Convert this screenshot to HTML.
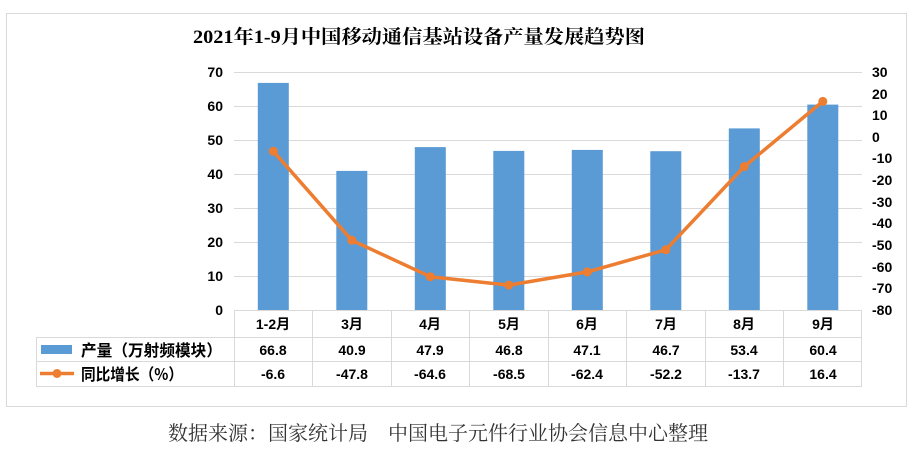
<!DOCTYPE html>
<html><head><meta charset="utf-8"><style>
body{margin:0;background:#fff;width:924px;height:448px;overflow:hidden}
svg text{font-family:"Liberation Sans","Noto Sans CJK SC",sans-serif;font-weight:bold;font-size:14px;fill:#000}
</style></head><body>
<svg width="924" height="448" viewBox="0 0 924 448">
<rect x="6.5" y="13.5" width="900" height="393" fill="#fff" stroke="#d9d9d9"/>
<text x="193" y="43" textLength="452" lengthAdjust="spacingAndGlyphs" style="font-family:'Liberation Serif','Noto Serif CJK SC',serif;font-size:19px;font-weight:bold">2021年1-9月中国移动通信基站设备产量发展趋势图</text>
<g stroke="#d9d9d9" stroke-width="1">
<line x1="234" x2="862" y1="72.5" y2="72.5"/><line x1="234" x2="862" y1="106.5" y2="106.5"/>
<line x1="234" x2="862" y1="140.5" y2="140.5"/><line x1="234" x2="862" y1="174.5" y2="174.5"/>
<line x1="234" x2="862" y1="208.5" y2="208.5"/><line x1="234" x2="862" y1="242.5" y2="242.5"/>
<line x1="234" x2="862" y1="276.5" y2="276.5"/><line x1="234" x2="862" y1="310.5" y2="310.5"/>
<line x1="36" x2="862" y1="337.5" y2="337.5"/><line x1="36" x2="862" y1="361.5" y2="361.5"/><line x1="36" x2="862" y1="386.5" y2="386.5"/>
<line x1="36.5" x2="36.5" y1="337" y2="386"/>
<line x1="234.5" x2="234.5" y1="310" y2="386"/><line x1="312.5" x2="312.5" y1="310" y2="386"/>
<line x1="391.5" x2="391.5" y1="310" y2="386"/><line x1="469.5" x2="469.5" y1="310" y2="386"/>
<line x1="548.5" x2="548.5" y1="310" y2="386"/><line x1="626.5" x2="626.5" y1="310" y2="386"/>
<line x1="705.5" x2="705.5" y1="310" y2="386"/><line x1="783.5" x2="783.5" y1="310" y2="386"/>
<line x1="861.5" x2="861.5" y1="310" y2="386"/>
</g>
<g text-anchor="end">
<text x="223" y="77">70</text><text x="223" y="111">60</text><text x="223" y="145">50</text><text x="223" y="179">40</text>
<text x="223" y="213">30</text><text x="223" y="247">20</text><text x="223" y="281">10</text><text x="223" y="315">0</text>
</g>
<g>
<text x="872" y="77">30</text><text x="872" y="99">20</text><text x="872" y="120">10</text><text x="872" y="142">0</text>
<text x="872" y="163">-10</text><text x="872" y="185">-20</text><text x="872" y="207">-30</text><text x="872" y="228">-40</text>
<text x="872" y="250">-50</text><text x="872" y="272">-60</text><text x="872" y="293">-70</text><text x="872" y="315">-80</text>
</g>
<g fill="#5b9bd5">
<rect x="257.8" y="82.9" width="31" height="227.1"/><rect x="336.3" y="170.9" width="31" height="139.1"/>
<rect x="414.8" y="147.1" width="31" height="162.9"/><rect x="493.3" y="150.9" width="31" height="159.1"/>
<rect x="571.8" y="149.9" width="31" height="160.1"/><rect x="650.3" y="151.2" width="31" height="158.8"/>
<rect x="728.8" y="128.4" width="31" height="181.6"/><rect x="807.3" y="104.6" width="31" height="205.4"/>
</g>
<polyline fill="none" stroke="#ed7d31" stroke-width="3.5" stroke-linejoin="round" points="273.3,151.2 351.8,240.3 430.3,276.7 508.8,285.1 587.3,271.9 665.8,249.8 744.3,166.5 822.8,101.4"/>
<g fill="#ed7d31">
<circle cx="273.3" cy="151.2" r="4.5"/><circle cx="351.8" cy="240.3" r="4.5"/><circle cx="430.3" cy="276.7" r="4.5"/>
<circle cx="508.8" cy="285.1" r="4.5"/><circle cx="587.3" cy="271.9" r="4.5"/><circle cx="665.8" cy="249.8" r="4.5"/>
<circle cx="744.3" cy="166.5" r="4.5"/><circle cx="822.8" cy="101.4" r="4.5"/>
</g>
<g text-anchor="middle" style="font-size:15px">
<text x="273" y="329">1-2月</text><text x="352" y="329">3月</text><text x="430" y="329">4月</text><text x="509" y="329">5月</text>
<text x="587" y="329">6月</text><text x="666" y="329">7月</text><text x="744" y="329">8月</text><text x="823" y="329">9月</text>
<text x="273" y="355">66.8</text><text x="352" y="355">40.9</text><text x="430" y="355">47.9</text><text x="509" y="355">46.8</text>
<text x="587" y="355">47.1</text><text x="666" y="355">46.7</text><text x="744" y="355">53.4</text><text x="823" y="355">60.4</text>
<text x="273" y="379">-6.6</text><text x="352" y="379">-47.8</text><text x="430" y="379">-64.6</text><text x="509" y="379">-68.5</text>
<text x="587" y="379">-62.4</text><text x="666" y="379">-52.2</text><text x="744" y="379">-13.7</text><text x="823" y="379">16.4</text>
</g>
<rect x="41" y="345" width="31" height="9" fill="#5b9bd5"/>
<line x1="40" x2="74" y1="373.5" y2="373.5" stroke="#ed7d31" stroke-width="3.5"/>
<circle cx="57" cy="373.5" r="4.5" fill="#ed7d31"/>
<text x="81" y="356" textLength="141" lengthAdjust="spacingAndGlyphs" style="font-family:'Noto Sans CJK SC',sans-serif;font-size:16px">产量（万射频模块）</text>
<text x="81" y="380" textLength="102" lengthAdjust="spacingAndGlyphs" style="font-family:'Noto Sans CJK SC',sans-serif;font-size:16px">同比增长（%）</text>
<text x="168" y="440" textLength="540" lengthAdjust="spacingAndGlyphs" style="font-weight:normal;font-family:'Noto Serif CJK SC',serif;font-size:20px;fill:#333">数据来源：国家统计局　中国电子元件行业协会信息中心整理</text>
</svg>
</body></html>
